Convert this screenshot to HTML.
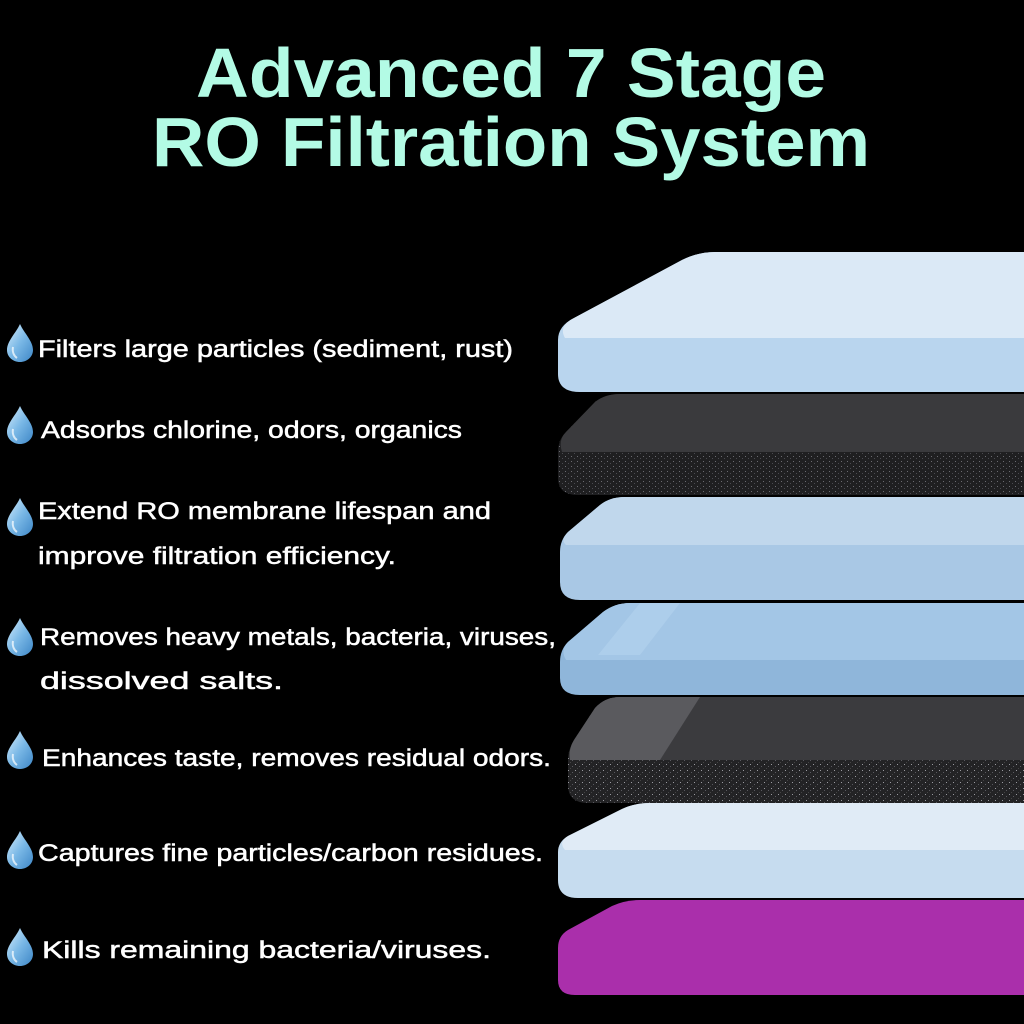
<!DOCTYPE html>
<html><head><meta charset="utf-8"><style>
html,body{margin:0;padding:0;background:#000;}
svg{display:block;}
</style></head><body>
<svg width="1024" height="1024" viewBox="0 0 1024 1024" xmlns="http://www.w3.org/2000/svg">
<defs>
  <linearGradient id="drop" x1="0" y1="0" x2="1" y2="1">
    <stop offset="0" stop-color="#d8eefc"/>
    <stop offset="0.5" stop-color="#7ab8e6"/>
    <stop offset="1" stop-color="#3d86c6"/>
  </linearGradient>
  <pattern id="speck" width="6" height="5" patternUnits="userSpaceOnUse">
    <rect width="6" height="5" fill="#1f1f21"/>
    <rect x="1" y="1" width="1" height="1" fill="#6a6a70"/>
    <rect x="4" y="3" width="1" height="1" fill="#4a4a50"/>
  </pattern>
  <pattern id="speck2" width="7" height="6" patternUnits="userSpaceOnUse">
    <rect width="7" height="6" fill="#232325"/>
    <rect x="1" y="2" width="1" height="1" fill="#9a9aa0"/>
    <rect x="5" y="4" width="1" height="1" fill="#5a5a60"/>
    <rect x="3" y="0" width="1" height="1" fill="#444"/>
  </pattern>
  <g id="d">
    <path d="M0,-19 C4,-10 13,-2 13,7 C13,14 7,19 0,19 C-7,19 -13,14 -13,7 C-13,-2 -4,-10 0,-19 Z" fill="url(#drop)"/>
    <path d="M-7,4 C-8,9 -6,13 -3,15" stroke="#fff" stroke-width="2" fill="none" opacity="0.7"/>
  </g>
</defs>
<rect width="1024" height="1024" fill="#000"/>

<g font-family="Liberation Sans, sans-serif" font-weight="bold" fill="#b3fbe5" font-size="70">
  <text x="196" y="97" textLength="630" lengthAdjust="spacingAndGlyphs">Advanced 7 Stage</text>
  <text x="152" y="166" textLength="718" lengthAdjust="spacingAndGlyphs">RO Filtration System</text>
</g>

<path d="M1024 900 L640 900 Q625 900 612 906 L568 930 Q558 936 558 948 L558 980 Q558 995 575 995 L1024 995 Z" fill="#aa2fab"/>
<path d="M1024 803 L650 803 Q635 803 622 809 L568 836 Q558 842 558 852 L558 880 Q558 898 578 898 L1024 898 Z" fill="#c6dcef"/>
<path d="M1024 803 L650 803 Q635 803 622 809 L568 836 Q558 842 565 850 L1024 850 Z" fill="#e0ebf6"/>
<path d="M1024 697 L620 697 Q605 697 595 708 L574 740 Q568 750 568 760 L568 785 Q568 803 588 803 L1024 803 Z" fill="url(#speck2)"/>
<path d="M1024 697 L620 697 Q605 697 595 708 L574 740 Q568 750 570 760 L1024 760 Z" fill="#3b3b3e"/>
<path d="M620 697 Q605 697 595 708 L574 740 Q568 750 570 760 L660 760 L700 697 Z" fill="#5a5a5e"/>
<path d="M1024 603 L630 603 Q615 603 603 612 L568 642 Q560 650 560 662 L560 678 Q560 695 580 695 L1024 695 Z" fill="#8fb6da"/>
<path d="M1024 603 L630 603 Q615 603 603 612 L568 642 Q560 650 566 660 L1024 660 Z" fill="#a3c6e6"/>
<path d="M640 603 L680 603 L640 655 L598 655 Z" fill="#b8d6f0" opacity="0.5"/>
<path d="M1024 497 L625 497 Q610 497 600 505 L568 532 Q560 540 560 552 L560 582 Q560 600 580 600 L1024 600 Z" fill="#a9c8e5"/>
<path d="M1024 497 L625 497 Q610 497 600 505 L568 532 Q560 540 566 545 L1024 545 Z" fill="#c0d7ec"/>
<path d="M1024 394 L620 394 Q605 394 595 402 L566 432 Q558 440 558 452 L558 478 Q558 495 578 495 L1024 495 Z" fill="url(#speck)"/>
<path d="M1024 394 L620 394 Q605 394 595 402 L566 432 Q558 440 562 452 L1024 452 Z" fill="#3a3a3d"/>
<path d="M1024 252 L715 252 Q698 252 682 260 L574 318 Q558 326 558 340 L558 374 Q558 392 580 392 L1024 392 Z" fill="#b9d5ee"/>
<path d="M1024 252 L715 252 Q698 252 682 260 L574 318 Q558 326 565 338 L1024 338 Z" fill="#dbe9f6"/>

<use href="#d" x="20" y="343"/>
<use href="#d" x="20" y="425"/>
<use href="#d" x="20" y="517"/>
<use href="#d" x="20" y="637"/>
<use href="#d" x="20" y="750"/>
<use href="#d" x="20" y="850"/>
<use href="#d" x="20" y="947"/>

<g font-family="Liberation Sans, sans-serif" fill="#ffffff" stroke="#ffffff" stroke-width="0.5" font-size="24">
  <text x="38" y="357" textLength="475" lengthAdjust="spacingAndGlyphs">Filters large particles (sediment, rust)</text>
  <text x="41" y="438" textLength="421" lengthAdjust="spacingAndGlyphs">Adsorbs chlorine, odors, organics</text>
  <text x="38" y="519" textLength="453" lengthAdjust="spacingAndGlyphs">Extend RO membrane lifespan and</text>
  <text x="38" y="564" textLength="358" lengthAdjust="spacingAndGlyphs">improve filtration efficiency.</text>
  <text x="40" y="645" textLength="516" lengthAdjust="spacingAndGlyphs">Removes heavy metals, bacteria, viruses,</text>
  <text x="40" y="689" textLength="243" lengthAdjust="spacingAndGlyphs">dissolved salts.</text>
  <text x="42" y="766" textLength="509" lengthAdjust="spacingAndGlyphs">Enhances taste, removes residual odors.</text>
  <text x="38" y="861" textLength="505" lengthAdjust="spacingAndGlyphs">Captures fine particles/carbon residues.</text>
  <text x="42" y="958" textLength="449" lengthAdjust="spacingAndGlyphs">Kills remaining bacteria/viruses.</text>
</g>
</svg>
</body></html>
